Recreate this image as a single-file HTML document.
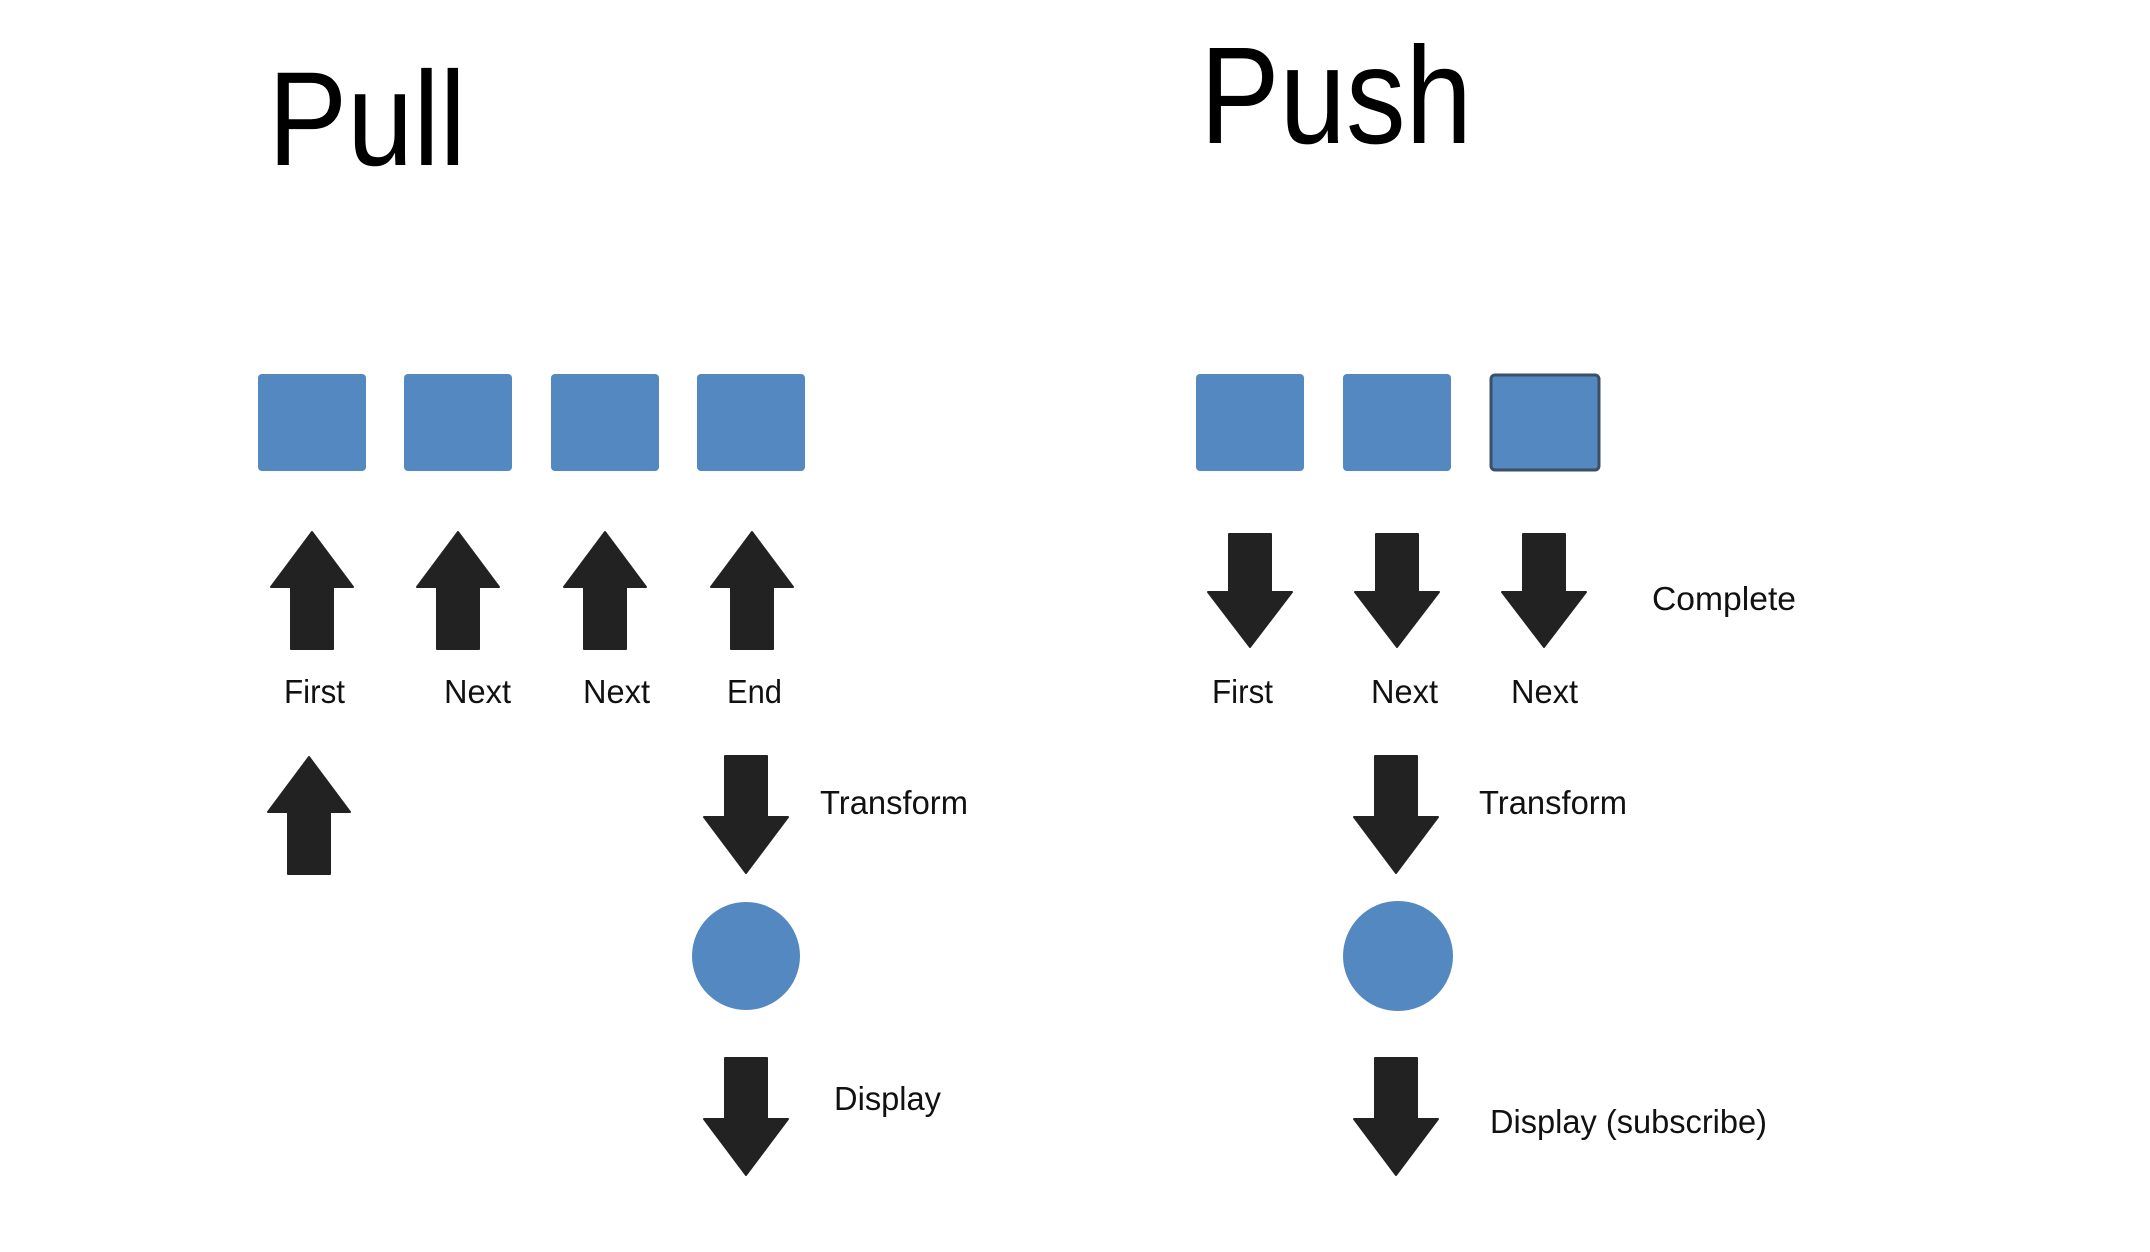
<!DOCTYPE html>
<html><head><style>html,body{margin:0;padding:0;background:#fff}svg{display:block}</style></head>
<body>
<svg width="2150" height="1252" viewBox="0 0 2150 1252" xmlns="http://www.w3.org/2000/svg" font-family="Liberation Sans, sans-serif">
<defs>
<path id="up" d="M0 0 L41 55 L21 55 L21 117 L-21 117 L-21 55 L-41 55 Z" fill="#222" stroke="#222" stroke-width="2" stroke-linejoin="round"/>
<path id="down" d="M-21 0 L21 0 L21 61 L42 61 L0 117 L-42 61 L-21 61 Z" fill="#222" stroke="#222" stroke-width="2" stroke-linejoin="round"/>
<path id="down2" d="M-21 0 L21 0 L21 58 L42 58 L0 113 L-42 58 L-21 58 Z" fill="#222" stroke="#222" stroke-width="2" stroke-linejoin="round"/>
</defs>
<text x="268" y="165" font-size="134" textLength="198" lengthAdjust="spacingAndGlyphs">Pull</text>
<text x="1200" y="143" font-size="138" textLength="272" lengthAdjust="spacingAndGlyphs">Push</text>
<g fill="#5388c0">
<rect x="258" y="374" width="108" height="97" rx="4"/>
<rect x="404" y="374" width="108" height="97" rx="4"/>
<rect x="551" y="374" width="108" height="97" rx="4"/>
<rect x="697" y="374" width="108" height="97" rx="4"/>
<rect x="1196" y="374" width="108" height="97" rx="4"/>
<rect x="1343" y="374" width="108" height="97" rx="4"/>
<rect x="1491" y="375" width="108" height="95" rx="4" stroke="#3b4f66" stroke-width="3"/>
<ellipse cx="746" cy="956" rx="54" ry="54"/>
<ellipse cx="1398" cy="956" rx="55" ry="55"/>
</g>
<use href="#up" x="312" y="532"/>
<use href="#up" x="458" y="532"/>
<use href="#up" x="605" y="532"/>
<use href="#up" x="752" y="532"/>
<use href="#up" x="309" y="757"/>
<use href="#down" x="746" y="756"/>
<use href="#down" x="746" y="1058"/>
<use href="#down2" x="1250" y="534"/>
<use href="#down2" x="1397" y="534"/>
<use href="#down2" x="1544" y="534"/>
<use href="#down" x="1396" y="756"/>
<use href="#down" x="1396" y="1058"/>
<g font-size="33" fill="#111">
<text x="284" y="703" textLength="61" lengthAdjust="spacingAndGlyphs">First</text>
<text x="444" y="703" textLength="67" lengthAdjust="spacingAndGlyphs">Next</text>
<text x="583" y="703" textLength="67" lengthAdjust="spacingAndGlyphs">Next</text>
<text x="727" y="703" textLength="55" lengthAdjust="spacingAndGlyphs">End</text>
<text x="1212" y="703" textLength="61" lengthAdjust="spacingAndGlyphs">First</text>
<text x="1371" y="703" textLength="67" lengthAdjust="spacingAndGlyphs">Next</text>
<text x="1511" y="703" textLength="67" lengthAdjust="spacingAndGlyphs">Next</text>
<text x="1652" y="610" textLength="144" lengthAdjust="spacingAndGlyphs">Complete</text>
<text x="820" y="814" textLength="148" lengthAdjust="spacingAndGlyphs">Transform</text>
<text x="1479" y="814" textLength="148" lengthAdjust="spacingAndGlyphs">Transform</text>
<text x="834" y="1110" textLength="107" lengthAdjust="spacingAndGlyphs">Display</text>
<text x="1490" y="1133" textLength="277" lengthAdjust="spacingAndGlyphs">Display (subscribe)</text>
</g>
</svg>
</body></html>
